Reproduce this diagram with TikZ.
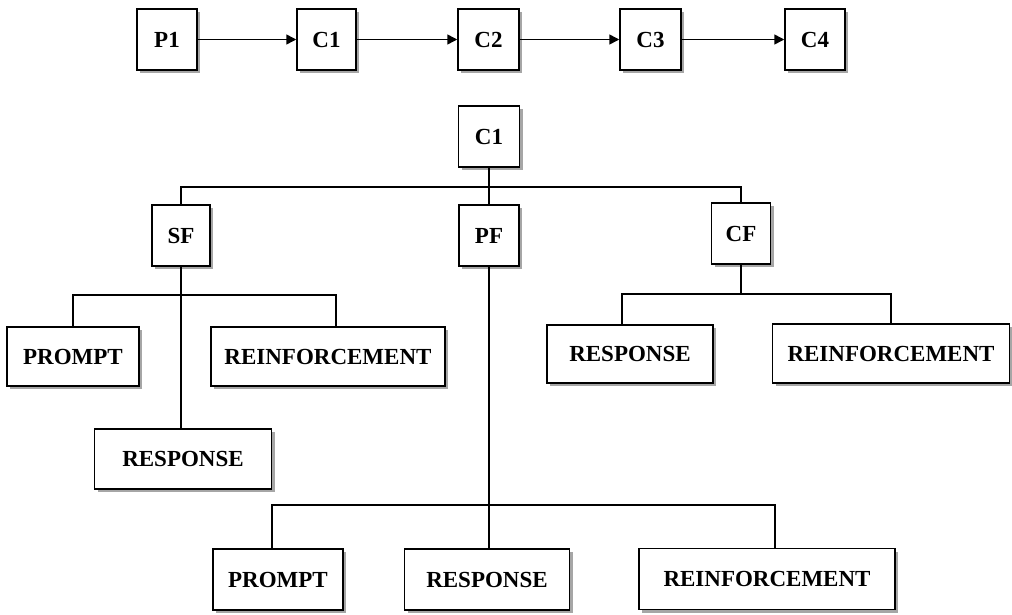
\documentclass[tikz,border=0pt]{standalone}
\usepackage{fontspec}
\setmainfont{Liberation Serif}
\usetikzlibrary{arrows.meta,shadows}
\tikzset{
  box/.style={draw=black, line width=1.5pt, fill=white, inner sep=0pt,
    font=\fontsize{23}{25}\selectfont\bfseries,
    drop shadow={shadow xshift=3pt, shadow yshift=-3pt, fill=black!35, opacity=1}},
  link/.style={draw=black, line width=1.5pt},
  arr/.style={link, -{Triangle[length=10pt,width=10pt]}}
}
\begin{document}
\begin{tikzpicture}[x=1pt,y=-1pt]
\useasboundingbox (0,0) rectangle (1012,614);
% top row
\node[box, minimum width=60pt, minimum height=61pt] (P1) at (167,39.5) {P1};
\node[box, minimum width=59pt, minimum height=61pt] (C1) at (326.5,39.5) {C1};
\node[box, minimum width=61pt, minimum height=61pt] (C2) at (488.5,39.5) {C2};
\node[box, minimum width=61pt, minimum height=61pt] (C3) at (650.5,39.5) {C3};
\node[box, minimum width=60pt, minimum height=61pt] (C4) at (815,39.5) {C4};
\draw[arr] (P1.east) -- (C1.west);
\draw[arr] (C1.east) -- (C2.west);
\draw[arr] (C2.east) -- (C3.west);
\draw[arr] (C3.east) -- (C4.west);
% tree
\node[box, minimum width=61pt, minimum height=61pt] (T) at (489,136.5) {C1};
\node[box, minimum width=58pt, minimum height=61pt] (SF) at (181,235.5) {SF};
\node[box, minimum width=60pt, minimum height=61pt] (PF) at (489,235.5) {PF};
\node[box, minimum width=59pt, minimum height=61pt] (CF) at (741,233.5) {CF};
\coordinate (jT) at (489,187);
\draw[link] (T.south) -- (jT);
\draw[link] (SF.north) |- (jT) -| (CF.north);
\draw[link] (jT) -- (PF.north);
% SF children
\node[box, minimum width=132pt, minimum height=59pt] (SP) at (73,356.5) {PROMPT};
\node[box, minimum width=234pt, minimum height=59pt] (SR) at (328,356.5) {REINFORCEMENT};
\node[box, minimum width=177pt, minimum height=60pt] (SS) at (183,459) {RESPONSE};
\coordinate (jSF) at (181,295);
\draw[link] (SP.north) |- (jSF) -| ([xshift=8pt]SR.north);
\draw[link] (SF.south) -- (SF.south |- SS.north);
% CF children
\node[box, minimum width=166pt, minimum height=58pt] (CS) at (630,354) {RESPONSE};
\node[box, minimum width=237pt, minimum height=59pt] (CR) at (891,353.5) {REINFORCEMENT};
\coordinate (jCF) at (741,294);
\draw[link] (CF.south) -- (jCF);
\draw[link] ([xshift=-8pt]CS.north) |- (jCF) -| (CR.north);
% PF children
\node[box, minimum width=130pt, minimum height=61pt] (PP) at (278,579.5) {PROMPT};
\node[box, minimum width=165pt, minimum height=61pt] (PS) at (487,579.5) {RESPONSE};
\node[box, minimum width=256pt, minimum height=61pt] (PR) at (767,579) {REINFORCEMENT};
\coordinate (jPF) at (489,505);
\draw[link] (PF.south) -- (PF.south |- PS.north);
\draw[link] ([xshift=-6pt]PP.north) |- (jPF) -| ([xshift=8pt]PR.north);
\end{tikzpicture}
\end{document}
